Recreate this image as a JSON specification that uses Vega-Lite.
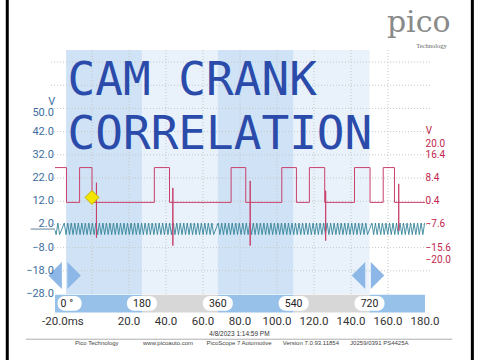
{
"$schema":"https://vega.github.io/schema/vega-lite/v6.json",
"width":380,"height":244,
"autosize":{"type":"none"},
"padding":{"left":50,"top":50,"right":50,"bottom":66},
"background":"white",
"config":{"view":{"stroke":null},"text":{"font":"Roboto"}},
"datasets":{
"bands":[{"a":-14,"b":27,"k":"d"},{"a":27,"b":68,"k":"l"},{"a":68,"b":109,"k":"d"},{"a":109,"b":150,"k":"l"}],
"rot":[{"a":-20,"b":27,"k":"b"},{"a":27,"b":68,"k":"g"},{"a":68,"b":109,"k":"b"},{"a":109,"b":150,"k":"g"},{"a":150,"b":180,"k":"b"}],
"hgrid":[{"v":72},{"v":62},{"v":52},{"v":42},{"v":32},{"v":22},{"v":12},{"v":2},{"v":-8},{"v":-18}],
"vgrid":[{"t":0},{"t":20},{"t":40},{"t":60},{"t":80},{"t":100},{"t":120},{"t":140},{"t":160}],
"ylab":[{"v":50},{"v":42},{"v":32},{"v":22},{"v":12},{"v":2},{"v":-8},{"v":-18},{"v":-28}],
"rlab":[{"r":20},{"r":16.4},{"r":8.4},{"r":0.4},{"r":-7.6},{"r":-15.6},{"r":-20}],
"xlab":[{"t":20},{"t":40},{"t":60},{"t":80},{"t":100},{"t":120},{"t":140},{"t":160},{"t":180}],
"pills":[{"t":27,"deg":"180"},{"t":68,"deg":"360"},{"t":109,"deg":"540"},{"t":150,"deg":"720"}],
"handles":[{"t":-14},{"t":150}],
"crank":[{"t":-20,"v":-0.5},{"t":-19.4,"v":-2.4},{"t":-18.45,"v":2.6},{"t":-17.5,"v":-2.4},
{"t":-15,"v":2.6},{"t":-14.05,"v":-2.4},{"t":-13.1,"v":2.6},{"t":-12.15,"v":-2.4},{"t":-11.2,"v":2.6},{"t":-10.25,"v":-2.4},{"t":-9.3,"v":2.6},{"t":-8.35,"v":-2.4},{"t":-7.4,"v":2.6},{"t":-6.45,"v":-2.4},{"t":-5.5,"v":2.6},{"t":-4.55,"v":-2.4},{"t":-3.6,"v":2.6},{"t":-2.65,"v":-2.4},{"t":-1.7,"v":2.6},{"t":-0.75,"v":-2.4},{"t":0.2,"v":2.6},{"t":1.15,"v":-2.4},{"t":2.1,"v":2.6},{"t":3.05,"v":-2.4},{"t":4,"v":2.6},{"t":4.95,"v":-2.4},{"t":5.9,"v":2.6},{"t":6.85,"v":-2.4},{"t":7.8,"v":2.6},{"t":8.75,"v":-2.4},{"t":9.7,"v":2.6},{"t":10.65,"v":-2.4},{"t":11.6,"v":2.6},{"t":12.55,"v":-2.4},{"t":13.5,"v":2.6},{"t":14.45,"v":-2.4},{"t":15.4,"v":2.6},{"t":16.35,"v":-2.4},{"t":17.3,"v":2.6},{"t":18.25,"v":-2.4},{"t":19.2,"v":2.6},{"t":20.15,"v":-2.4},{"t":21.1,"v":2.6},{"t":22.05,"v":-2.4},{"t":23,"v":2.6},{"t":23.95,"v":-2.4},{"t":24.9,"v":2.6},{"t":25.85,"v":-2.4},{"t":26.8,"v":2.6},{"t":27.75,"v":-2.4},{"t":28.7,"v":2.6},{"t":29.65,"v":-2.4},{"t":30.6,"v":2.6},{"t":31.55,"v":-2.4},{"t":32.5,"v":2.6},{"t":33.45,"v":-2.4},{"t":34.4,"v":2.6},{"t":35.35,"v":-2.4},{"t":36.3,"v":2.6},{"t":37.25,"v":-2.4},{"t":38.2,"v":2.6},{"t":39.15,"v":-2.4},{"t":40.1,"v":2.6},{"t":41.05,"v":-2.4},{"t":42,"v":2.6},{"t":42.95,"v":-2.4},{"t":43.9,"v":2.6},{"t":44.85,"v":-2.4},{"t":45.8,"v":2.6},{"t":46.75,"v":-2.4},{"t":47.7,"v":2.6},{"t":48.65,"v":-2.4},{"t":49.6,"v":2.6},{"t":50.55,"v":-2.4},{"t":51.5,"v":2.6},{"t":52.45,"v":-2.4},{"t":53.4,"v":2.6},{"t":54.35,"v":-2.4},{"t":55.3,"v":2.6},{"t":56.25,"v":-2.4},{"t":57.2,"v":2.6},{"t":58.15,"v":-2.4},{"t":59.1,"v":2.6},{"t":60.05,"v":-2.4},{"t":61,"v":2.6},{"t":61.95,"v":-2.4},{"t":62.9,"v":2.6},{"t":63.85,"v":-2.4},{"t":64.8,"v":2.6},{"t":65.75,"v":-2.4},
{"t":68.2,"v":2.6},{"t":69.15,"v":-2.4},{"t":70.1,"v":2.6},{"t":71.05,"v":-2.4},{"t":72,"v":2.6},{"t":72.95,"v":-2.4},{"t":73.9,"v":2.6},{"t":74.85,"v":-2.4},{"t":75.8,"v":2.6},{"t":76.75,"v":-2.4},{"t":77.7,"v":2.6},{"t":78.65,"v":-2.4},{"t":79.6,"v":2.6},{"t":80.55,"v":-2.4},{"t":81.5,"v":2.6},{"t":82.45,"v":-2.4},{"t":83.4,"v":2.6},{"t":84.35,"v":-2.4},{"t":85.3,"v":2.6},{"t":86.25,"v":-2.4},{"t":87.2,"v":2.6},{"t":88.15,"v":-2.4},{"t":89.1,"v":2.6},{"t":90.05,"v":-2.4},{"t":91,"v":2.6},{"t":91.95,"v":-2.4},{"t":92.9,"v":2.6},{"t":93.85,"v":-2.4},{"t":94.8,"v":2.6},{"t":95.75,"v":-2.4},{"t":96.7,"v":2.6},{"t":97.65,"v":-2.4},{"t":98.6,"v":2.6},{"t":99.55,"v":-2.4},{"t":100.5,"v":2.6},{"t":101.45,"v":-2.4},{"t":102.4,"v":2.6},{"t":103.35,"v":-2.4},{"t":104.3,"v":2.6},{"t":105.25,"v":-2.4},{"t":106.2,"v":2.6},{"t":107.15,"v":-2.4},{"t":108.1,"v":2.6},{"t":109.05,"v":-2.4},{"t":110,"v":2.6},{"t":110.95,"v":-2.4},{"t":111.9,"v":2.6},{"t":112.85,"v":-2.4},{"t":113.8,"v":2.6},{"t":114.75,"v":-2.4},{"t":115.7,"v":2.6},{"t":116.65,"v":-2.4},{"t":117.6,"v":2.6},{"t":118.55,"v":-2.4},{"t":119.5,"v":2.6},{"t":120.45,"v":-2.4},{"t":121.4,"v":2.6},{"t":122.35,"v":-2.4},{"t":123.3,"v":2.6},{"t":124.25,"v":-2.4},{"t":125.2,"v":2.6},{"t":126.15,"v":-2.4},{"t":127.1,"v":2.6},{"t":128.05,"v":-2.4},{"t":129,"v":2.6},{"t":129.95,"v":-2.4},{"t":130.9,"v":2.6},{"t":131.85,"v":-2.4},{"t":132.8,"v":2.6},{"t":133.75,"v":-2.4},{"t":134.7,"v":2.6},{"t":135.65,"v":-2.4},{"t":136.6,"v":2.6},{"t":137.55,"v":-2.4},{"t":138.5,"v":2.6},{"t":139.45,"v":-2.4},{"t":140.4,"v":2.6},{"t":141.35,"v":-2.4},{"t":142.3,"v":2.6},{"t":143.25,"v":-2.4},{"t":144.2,"v":2.6},{"t":145.15,"v":-2.4},{"t":146.1,"v":2.6},{"t":147.05,"v":-2.4},{"t":148,"v":2.6},{"t":148.95,"v":-2.4},
{"t":151.3,"v":2.6},{"t":152.25,"v":-2.4},{"t":153.2,"v":2.6},{"t":154.15,"v":-2.4},{"t":155.1,"v":2.6},{"t":156.05,"v":-2.4},{"t":157,"v":2.6},{"t":157.95,"v":-2.4},{"t":158.9,"v":2.6},{"t":159.85,"v":-2.4},{"t":160.8,"v":2.6},{"t":161.75,"v":-2.4},{"t":162.7,"v":2.6},{"t":163.65,"v":-2.4},{"t":164.6,"v":2.6},{"t":165.55,"v":-2.4},{"t":166.5,"v":2.6},{"t":167.45,"v":-2.4},{"t":168.4,"v":2.6},{"t":169.35,"v":-2.4},{"t":170.3,"v":2.6},{"t":171.25,"v":-2.4},{"t":172.2,"v":2.6},{"t":173.15,"v":-2.4},{"t":174.1,"v":2.6},{"t":175.05,"v":-2.4},{"t":176,"v":2.6},{"t":176.95,"v":-2.4},{"t":177.9,"v":2.6},{"t":178.85,"v":-2.4},{"t":179.8,"v":2.6}],
"cam":[{"t":-20,"r":12},{"t":-13.8,"r":12},{"t":-13.8,"r":0},{"t":-6.7,"r":0},{"t":-6.7,"r":12},{"t":0,"r":12},{"t":0,"r":0},
{"t":2.4,"r":0},{"t":2.4,"r":6.8},{"t":2.4,"r":-12.2},{"t":2.4,"r":0},
{"t":33.7,"r":0},{"t":33.7,"r":12},{"t":41.9,"r":12},{"t":41.9,"r":0},
{"t":43.7,"r":0},{"t":43.7,"r":5},{"t":43.7,"r":-14.9},{"t":43.7,"r":0},
{"t":75.2,"r":0},{"t":75.2,"r":12},{"t":83.1,"r":12},{"t":83.1,"r":0},
{"t":85.5,"r":0},{"t":85.5,"r":7.4},{"t":85.5,"r":-14.9},{"t":85.5,"r":0},
{"t":102.6,"r":0},{"t":102.6,"r":12},{"t":110.5,"r":12},{"t":110.5,"r":0},{"t":117.5,"r":0},{"t":117.5,"r":12},{"t":125.8,"r":12},{"t":125.8,"r":0},
{"t":126.3,"r":0},{"t":126.3,"r":4},{"t":126.3,"r":-13.2},{"t":126.3,"r":0},
{"t":141.9,"r":0},{"t":141.9,"r":12},{"t":150.3,"r":12},{"t":150.3,"r":0},{"t":157.4,"r":0},{"t":157.4,"r":12},{"t":163.5,"r":12},{"t":163.5,"r":0},
{"t":165.8,"r":0},{"t":165.8,"r":6.4},{"t":165.8,"r":-9.8},{"t":165.8,"r":0},
{"t":180,"r":0}]
},
"layer":[
{"layer":[
{"data":{"name":"bands"},"mark":{"type":"rect"},
"encoding":{
"x":{"field":"a","type":"quantitative","scale":{"domain":[-20,180],"nice":false,"zero":false},"axis":null},
"x2":{"field":"b"},
"y":{"datum":77.2,"type":"quantitative","scale":{"domain":[-28,77.2],"nice":false,"zero":false},"axis":null},
"y2":{"datum":-28},
"color":{"field":"k","type":"nominal","scale":{"domain":["d","l","b","g"],"range":["#d0e3f6","#e9f2fb","#98c1ea","#d7d7d7"]},"legend":null}}},
{"data":{"name":"hgrid"},"mark":{"type":"rule","color":"#c6c6c6","strokeDash":[1,2],"strokeWidth":1},
"encoding":{"y":{"field":"v","type":"quantitative","axis":null}}},
{"data":{"name":"vgrid"},"mark":{"type":"rule","color":"#c6c6c6","strokeDash":[1,2],"strokeWidth":1},
"encoding":{"x":{"field":"t","type":"quantitative","axis":null}}},
{"data":{"values":[{}]},"mark":{"type":"rule","color":"#5f8199","strokeWidth":1},
"encoding":{"x":{"datum":-33.2,"type":"quantitative","axis":null},"x2":{"datum":-20},"y":{"datum":0,"type":"quantitative","axis":null}}},
{"data":{"name":"crank"},"mark":{"type":"line","color":"#35849a","strokeWidth":0.9},
"encoding":{"x":{"field":"t","type":"quantitative","axis":null},"y":{"field":"v","type":"quantitative","axis":null}}},
{"data":{"name":"rot"},"mark":{"type":"rect"},
"encoding":{"x":{"field":"a","type":"quantitative","axis":null},"x2":{"field":"b"},"y":{"datum":-28.3,"type":"quantitative","axis":null},"y2":{"datum":-36},
"color":{"field":"k","type":"nominal","legend":null}}},
{"data":{"name":"pills"},"mark":{"type":"bar","width":30,"cornerRadius":7,"color":"white"},
"encoding":{"x":{"field":"t","type":"quantitative","axis":null},"y":{"datum":-28.9,"type":"quantitative","axis":null},"y2":{"datum":-35.2}}},
{"data":{"values":[{}]},"mark":{"type":"bar","width":24,"cornerRadius":7,"color":"white"},
"encoding":{"x":{"datum":-12.1,"type":"quantitative","axis":null},"y":{"datum":-28.9,"type":"quantitative","axis":null},"y2":{"datum":-35.2}}},
{"data":{"name":"pills"},"mark":{"type":"text","fontSize":10.5,"color":"#222222","baseline":"middle","font":"Roboto"},
"encoding":{"x":{"field":"t","type":"quantitative","axis":null},"y":{"datum":-32.1,"type":"quantitative","axis":null},"text":{"field":"deg"}}},
{"data":{"values":[{}]},"mark":{"type":"text","fontSize":10.5,"color":"#222222","baseline":"middle","font":"Roboto","text":"0 °"},
"encoding":{"x":{"datum":-13.6,"type":"quantitative","axis":null},"y":{"datum":-32.1,"type":"quantitative","axis":null}}},
{"data":{"name":"handles"},"mark":{"type":"point","filled":true,"opacity":1,"size":729,"color":"#8db7e6","xOffset":-11,"shape":"M 0.5 -1 L -0.5 0 L 0.5 1 Z"},
"encoding":{"x":{"field":"t","type":"quantitative","axis":null},"y":{"datum":-20,"type":"quantitative","axis":null}}},
{"data":{"name":"handles"},"mark":{"type":"point","filled":true,"opacity":1,"size":729,"color":"#8db7e6","xOffset":8,"shape":"M -0.5 -1 L 0.5 0 L -0.5 1 Z"},
"encoding":{"x":{"field":"t","type":"quantitative","axis":null},"y":{"datum":-20,"type":"quantitative","axis":null}}},
{"data":{"name":"ylab"},"mark":{"type":"text","fontSize":11,"color":"#3d6e9e","baseline":"middle","align":"right","font":"Roboto"},
"encoding":{"x":{"datum":-20.6,"type":"quantitative","axis":null},"y":{"field":"v","type":"quantitative","axis":null},"text":{"field":"v","type":"quantitative","format":".1f"}}},
{"data":{"name":"xlab"},"mark":{"type":"text","fontSize":11.5,"color":"#333333","baseline":"middle","align":"center","font":"Roboto"},
"encoding":{"x":{"field":"t","type":"quantitative","axis":null},"y":{"datum":-39.9,"type":"quantitative","axis":null},"text":{"field":"t","type":"quantitative","format":".1f"}}},
{"data":{"values":[{}]},"mark":{"type":"text","text":["CAM CRANK","CORRELATION"],"lineHeight":54,"font":"DejaVu Sans Mono","fontSize":46,"color":"#2b4bab","align":"left","baseline":"alphabetic"},
"encoding":{"x":{"datum":-13.2,"type":"quantitative","axis":null},"y":{"datum":57.8,"type":"quantitative","axis":null}}},
{"data":{"values":[{}]},"mark":{"type":"text","text":"V","fontSize":11,"color":"#3d6e9e","baseline":"middle","align":"center","font":"Roboto"},
"encoding":{"x":{"datum":-21.7,"type":"quantitative","axis":null},"y":{"datum":54.9,"type":"quantitative","axis":null}}},
{"data":{"values":[{}]},"mark":{"type":"text","text":"V","fontSize":10,"color":"#c0264e","baseline":"middle","align":"left","font":"Roboto"},
"encoding":{"x":{"datum":180.4,"type":"quantitative","axis":null},"y":{"datum":42.3,"type":"quantitative","axis":null}}},
{"data":{"values":[{}]},"mark":{"type":"text","text":"-20.0ms","fontSize":11.5,"color":"#333333","baseline":"middle","align":"left","font":"Roboto"},
"encoding":{"x":{"datum":-27,"type":"quantitative","axis":null},"y":{"datum":-39.9,"type":"quantitative","axis":null}}},
{"data":{"values":[{}]},"mark":{"type":"text","text":"4/8/2023 1:14:59 PM","fontSize":6.5,"color":"#333333","baseline":"middle","align":"center","font":"Liberation Sans"},
"encoding":{"x":{"datum":79.7,"type":"quantitative","axis":null},"y":{"datum":-45.1,"type":"quantitative","axis":null}}},
{"data":{"values":[{}]},"mark":{"type":"rule","color":"#9a9a9a","strokeWidth":0.8},
"encoding":{"x":{"datum":-35.8,"type":"quantitative","axis":null},"x2":{"datum":194.7},"y":{"datum":-47.5,"type":"quantitative","axis":null}}},
{"data":{"values":[{}]},"mark":{"type":"text","text":"Pico Technology","fontSize":6,"color":"#444444","baseline":"middle","align":"center","font":"Liberation Sans"},
"encoding":{"x":{"datum":2.6,"type":"quantitative","axis":null},"y":{"datum":-49.3,"type":"quantitative","axis":null}}},
{"data":{"values":[{}]},"mark":{"type":"text","text":"www.picoauto.com","fontSize":6,"color":"#444444","baseline":"middle","align":"center","font":"Liberation Sans"},
"encoding":{"x":{"datum":41.1,"type":"quantitative","axis":null},"y":{"datum":-49.3,"type":"quantitative","axis":null}}},
{"data":{"values":[{}]},"mark":{"type":"text","text":"PicoScope 7 Automotive","fontSize":6,"color":"#444444","baseline":"middle","align":"center","font":"Liberation Sans"},
"encoding":{"x":{"datum":79.5,"type":"quantitative","axis":null},"y":{"datum":-49.3,"type":"quantitative","axis":null}}},
{"data":{"values":[{}]},"mark":{"type":"text","text":"Version 7.0.93.11854","fontSize":6,"color":"#444444","baseline":"middle","align":"center","font":"Liberation Sans"},
"encoding":{"x":{"datum":118.3,"type":"quantitative","axis":null},"y":{"datum":-49.3,"type":"quantitative","axis":null}}},
{"data":{"values":[{}]},"mark":{"type":"text","text":"J0259/0391 PS4425A","fontSize":6,"color":"#444444","baseline":"middle","align":"center","font":"Liberation Sans"},
"encoding":{"x":{"datum":155.3,"type":"quantitative","axis":null},"y":{"datum":-49.3,"type":"quantitative","axis":null}}},
{"data":{"values":[{}]},"mark":{"type":"text","text":"pico","fontSize":30,"color":"#8a8a8a","baseline":"alphabetic","align":"center","font":"DejaVu Serif"},
"encoding":{"x":{"datum":176.6,"type":"quantitative","axis":null},"y":{"datum":85,"type":"quantitative","axis":null}}},
{"data":{"values":[{}]},"mark":{"type":"text","text":"Technology","fontSize":6.5,"color":"#666666","baseline":"middle","align":"center","font":"Liberation Serif"},
"encoding":{"x":{"datum":183.5,"type":"quantitative","axis":null},"y":{"datum":78.9,"type":"quantitative","axis":null}}},
{"data":{"values":[{}]},"mark":{"type":"rule","color":"#000000","strokeWidth":3},
"encoding":{"x":{"datum":-45.8,"type":"quantitative","axis":null},"y":{"datum":99,"type":"quantitative","axis":null},"y2":{"datum":-57}}},
{"data":{"values":[{}]},"mark":{"type":"rule","color":"#000000","strokeWidth":3},
"encoding":{"x":{"datum":205.6,"type":"quantitative","axis":null},"y":{"datum":99,"type":"quantitative","axis":null},"y2":{"datum":-57}}}
]},
{"layer":[
{"data":{"name":"cam"},"mark":{"type":"line","color":"#c9406b","strokeWidth":1},
"encoding":{"x":{"field":"t","type":"quantitative","scale":{"domain":[-20,180],"nice":false,"zero":false},"axis":null},
"y":{"field":"r","type":"quantitative","scale":{"domain":[-31.6,52.56],"nice":false,"zero":false},"axis":null},
"order":{"value":null}}},
{"data":{"name":"rlab"},"mark":{"type":"text","fontSize":10,"color":"#c0264e","baseline":"middle","align":"left","font":"Roboto"},
"encoding":{"x":{"datum":180.3,"type":"quantitative","axis":null},"y":{"field":"r","type":"quantitative","axis":null},"text":{"field":"r","type":"quantitative","format":".1f"}}},
{"data":{"values":[{}]},"mark":{"type":"point","shape":"diamond","filled":true,"opacity":1,"size":196,"fill":"#f2e600","stroke":"#c2b000","strokeWidth":1},
"encoding":{"x":{"datum":0,"type":"quantitative","axis":null},"y":{"datum":1.7,"type":"quantitative","axis":null}}}
]}
],
"resolve":{"scale":{"y":"independent"}}
}
